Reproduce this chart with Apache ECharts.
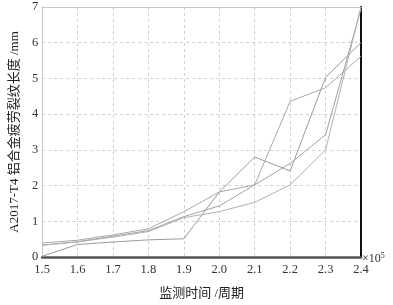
<!DOCTYPE html>
<html><head><meta charset="utf-8">
<script src="https://cdn.jsdelivr.net/npm/echarts@6/dist/echarts.min.js"></script>
<style>html,body{margin:0;padding:0;background:#fff}#c{width:393px;height:305px}</style>
</head><body><div id="c"></div>
<script>
const cycles = [1.5, 1.6, 1.7, 1.8, 1.9, 2.0, 2.1, 2.2, 2.3, 2.4];
const specimenA = [0.02, 0.35, 0.42, 0.48, 0.51, 1.82, 2.80, 2.41, 5.03, 6.00];
const specimenB = [0.39, 0.47, 0.62, 0.79, 1.27, 1.82, 2.02, 4.36, 4.74, 5.62];
const specimenC = [0.33, 0.43, 0.58, 0.74, 1.13, 1.43, 2.02, 2.62, 3.42, 6.95];
const specimenD = [0.33, 0.42, 0.56, 0.71, 1.10, 1.27, 1.53, 2.02, 3.00, 7.00];
const seriesList = [specimenA, specimenB, specimenC, specimenD];
const lineColors = ['#9a9a9a', '#a8a8a8', '#a0a0a0', '#b0b0b0'];

const font = '"Liberation Serif", "Noto Sans CJK SC", serif';
const chart = echarts.init(document.getElementById('c'), null, {renderer: 'canvas'});
const gridLine = {show: true, lineStyle: {color: '#cfcfcf', type: [3, 3], width: 1}};
chart.setOption({
  animation: false,
  grid: {left: 36, right: 32, top: 7, bottom: 40, containLabel: false},
  xAxis: [{
    type: 'value', min: 1.5, max: 2.4, interval: 0.1,
    name: '监测时间 /周期', nameLocation: 'middle', nameGap: 30,
    nameTextStyle: {fontFamily: font, fontSize: 13, color: '#222'},
    axisLine: {show: true, lineStyle: {color: '#555', width: 2.5}},
    axisTick: {show: false},
    axisLabel: {fontFamily: font, fontSize: 12.5, color: '#333', margin: 6,
      formatter: v => v.toFixed(1)},
    splitLine: gridLine
  }, {
    type: 'value', min: 1.5, max: 2.4, position: 'top',
    axisLine: {show: true, onZero: false, lineStyle: {color: '#c8c8c8', width: 1}},
    axisTick: {show: false}, axisLabel: {show: false}, splitLine: {show: false}
  }],
  yAxis: [{
    type: 'value', min: 0, max: 7, interval: 1,
    name: 'A2017-T4 铝合金疲劳裂纹长度 /mm', nameLocation: 'middle', nameGap: 21,
    nameTextStyle: {fontFamily: font, fontSize: 13, color: '#222'},
    axisLine: {show: true, lineStyle: {color: '#c8c8c8', width: 1}},
    axisTick: {show: false},
    axisLabel: {fontFamily: font, fontSize: 12.5, color: '#333', margin: 4},
    splitLine: gridLine
  }, {
    type: 'value', min: 0, max: 7, position: 'right',
    axisLine: {show: true, onZero: false, lineStyle: {color: '#111', width: 2}},
    axisTick: {show: false}, axisLabel: {show: false}, splitLine: {show: false}
  }],
  graphic: [{
    type: 'text', left: 362, top: 252,
    style: {
      text: '{a|×10}{b|5}',
      rich: {
        a: {fontFamily: font, fontSize: 12, fill: '#333'},
        b: {fontFamily: font, fontSize: 8, fill: '#333', verticalAlign: 'top', padding: [0, 0, 6, 0]}
      }
    }
  }],
  series: seriesList.map((vals, i) => ({
    type: 'line', symbol: 'none', xAxisIndex: 0, yAxisIndex: 0,
    data: cycles.map((c, j) => [c, vals[j]]),
    lineStyle: {color: lineColors[i], width: 1},
    z: 3
  }))
});
</script></body></html>
